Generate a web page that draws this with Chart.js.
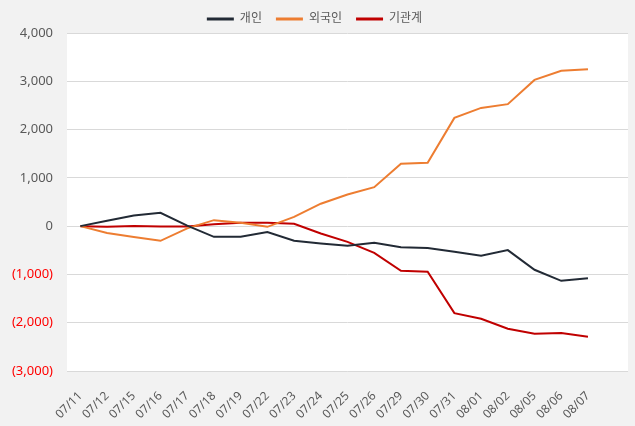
<!DOCTYPE html>
<html>
<head>
<meta charset="utf-8">
<script src="https://cdn.jsdelivr.net/npm/chart.js@4"></script>
<style>
  html, body { margin: 0; padding: 0; background: #f2f2f2; }
  #wrap { width: 635px; height: 426px; }
</style>
</head>
<body>
<div id="wrap"><canvas id="myChart" width="635" height="426"></canvas></div>
<script>
// 날짜 (x축)
var dates = ['07/11','07/12','07/15','07/16','07/17','07/18','07/19','07/22','07/23','07/24',
             '07/25','07/26','07/29','07/30','07/31','08/01','08/02','08/05','08/06','08/07'];

// 누적 순매수
var individual = [0, 110, 220, 275, 10, -221, -221, -124, -304, -360,
                  -405, -345, -435, -455, -531, -614, -497, -904, -1132, -1077];
var foreign = [0, -140, -225, -304, -45, 124, 72, -14, 193, 465,
               656, 807, 1290, 1311, 2242, 2449, 2526, 3029, 3216, 3251];
var institution = [0, -10, 5, -5, -5, 41, 69, 69, 48, -152,
                   -325, -552, -925, -946, -1801, -1918, -2126, -2230, -2215, -2292];

var seriesNames = ['개인', '외국인', '기관계'];
var seriesColors = ['#222a35', '#ed7d31', '#c00000'];

var yTicks = [-3000, -2000, -1000, 0, 1000, 2000, 3000, 4000];

// 오른쪽 빈 칸 하나
var labels = dates.concat(['']);

var FONT = "'Noto Sans', 'Noto Sans CJK KR', sans-serif";

// 배경: 바깥 회색, 플롯 영역 흰색
var bgPlugin = {
  id: 'bg',
  beforeDraw: function(chart) {
    var c = chart.ctx, a = chart.chartArea;
    c.save();
    c.fillStyle = '#f2f2f2';
    c.fillRect(0, 0, chart.width, chart.height);
    c.fillStyle = '#ffffff';
    c.fillRect(a.left, a.top, a.right - a.left, a.bottom - a.top);
    c.restore();
  }
};

function fmt(v) {
  var s = Math.abs(v).toLocaleString('en-US');
  return v < 0 ? '(' + s + ')' : s;
}

var ctx = document.getElementById('myChart').getContext('2d');
var chart = new Chart(ctx, {
  type: 'line',
  data: {
    labels: labels,
    datasets: [individual, foreign, institution].map(function(d, i) {
      return {
        label: seriesNames[i],
        data: d,
        borderColor: seriesColors[i],
        backgroundColor: seriesColors[i],
        borderWidth: 2,
        pointRadius: 0,
        tension: 0
      };
    })
  },
  options: {
    responsive: false,
    animation: false,
    layout: { padding: { top: -1, left: 0, right: 6, bottom: 0 } },
    plugins: {
      legend: {
        position: 'top',
        maxHeight: 34,
        labels: {
          boxWidth: 27,
          boxHeight: 3,
          padding: 14,
          color: '#595959',
          font: { family: FONT, size: 12 },
          generateLabels: function(ch) {
            var items = Chart.defaults.plugins.legend.labels.generateLabels(ch);
            items.forEach(function(it) { it.lineWidth = 0; });
            return items;
          }
        }
      },
      tooltip: { enabled: false }
    },
    scales: {
      x: {
        offset: true,
        grid: { display: false },
        border: { display: false },
        ticks: {
          color: '#595959',
          font: { family: FONT, size: 12 },
          minRotation: 45,
          maxRotation: 45,
          autoSkip: false,
          padding: 10
        },
        afterFit: function(s) { s.height = 55; }
      },
      y: {
        min: -3000,
        max: 4000,
        afterBuildTicks: function(s) {
          s.ticks = yTicks.map(function(v) { return { value: v }; });
        },
        grid: { color: '#d9d9d9', drawTicks: false },
        border: { display: false },
        ticks: {
          padding: 14,
          font: { family: FONT, size: 13 },
          color: function(c) { return c.tick.value < 0 ? '#ff0000' : '#595959'; },
          callback: function(v) { return fmt(v); }
        },
        afterFit: function(s) { s.width = 67; }
      }
    }
  },
  plugins: [bgPlugin]
});
</script>
</body>
</html>
